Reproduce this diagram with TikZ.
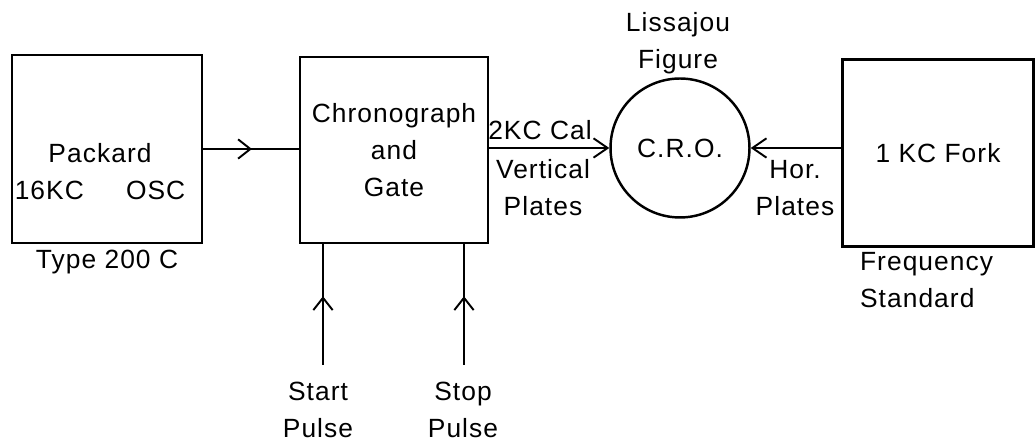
\documentclass[tikz,border=0pt]{standalone}
\usepackage{fontspec}
\setmainfont{Liberation Sans}[LetterSpace=4]
\usetikzlibrary{arrows.meta,positioning,calc,decorations.markings}

\begin{document}
\begin{tikzpicture}[
    x=0.02cm, y=-0.02cm,
    lbl/.style={font=\fontsize{15}{21}\selectfont, align=center, inner sep=1pt},
    blk/.style={draw, line width=1.6pt, minimum width=3.8cm, minimum height=3.76cm, inner sep=0pt},
    wire/.style={line width=1.1pt},
    barb/.style={-{Straight Barb[length=8pt,width=11pt]}},
    midarrow/.style={postaction={decorate},
      decoration={markings, mark=at position #1 with {\arrow{Straight Barb[length=7pt,width=11pt]}}}}
  ]
    \useasboundingbox (0,0) rectangle (1036,448);

    % blocks
    \node[blk] (osc) at (107,149) {};
    \node[lbl] (osctxt) at (100,172) {Packard\\16KC\hspace{1.6em}OSC};
    \node[lbl, below=2pt of osc] (osctype) {Type 200 C};
    \node[blk, lbl, inner sep=0pt, minimum width=3.76cm, minimum height=3.72cm] (chrono) at (394,150) {Chronograph\\and\\Gate};
    \node[draw, circle, line width=1.4pt, minimum size=2.78cm, inner sep=0pt, lbl] (cro) at (680,148) {C.R.O.};
    \node[blk, lbl, inner sep=0pt, minimum width=3.82cm, minimum height=3.74cm] (fork) at (938,153) {1 KC Fork};

    % labels
    \node[lbl] (liss) at (678,43) {Lissajou\\Figure};
    \node[lbl] (cal) at (540,130) {2KC Cal};
    \node[lbl] (vert) at (543,188) {Vertical\\Plates};
    \node[lbl] (hor) at (795,188) {Hor.\\Plates};
    \node[lbl, align=left, anchor=north west] (freq) at (858,250) {Frequency\\Standard};

    % connectors
    \draw[wire, midarrow=0.51] (osc.east) -- (osc.east -| chrono.west);
    \draw[wire, barb] (cro.west -| chrono.east) -- (cro.west);
    \draw[wire, barb] (cro.east -| fork.west) -- (cro.east);

    % pulse inputs
    \coordinate (startin) at (323,365);
    \coordinate (stopin) at (464,365);
    \draw[wire, midarrow=0.57] (startin) -- (startin |- chrono.south);
    \draw[wire, midarrow=0.57] (stopin) -- (stopin |- chrono.south);
    \node[lbl] (start) at (318,410) {Start\\Pulse};
    \node[lbl] (stop) at (463,410) {Stop\\Pulse};
  \end{tikzpicture}
\end{document}
